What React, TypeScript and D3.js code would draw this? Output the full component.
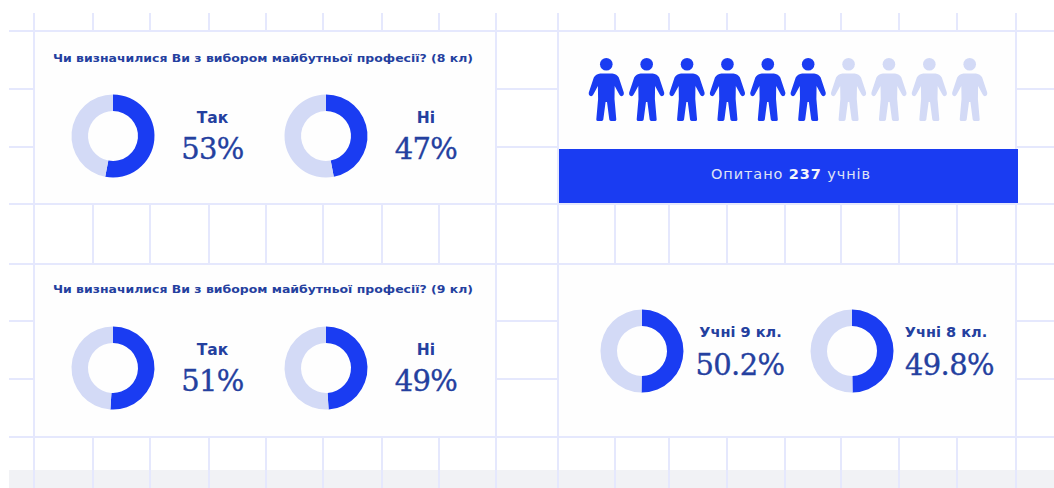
import React from "react";
import * as d3 from "d3";

const WIDTH = 1054;
const HEIGHT = 488;

const BLUE = "#1a3cf2";
const PALE = "#d3daf6";
const INK = "#24409f";
const GRID = "#e5e8fd";
const BAND = "#f1f2f5";

// Survey results
const titleGrade8 = "Чи визначилися Ви з вибором майбутньої професії? (8 кл)";
const titleGrade9 = "Чи визначилися Ви з вибором майбутньої професії? (9 кл)";
const answerLabels = ["Так", "Ні"];
const grade8Answers = [53, 47];
const grade9Answers = [51, 49];
const gradeLabels = ["Учні 9 кл.", "Учні 8 кл."];
const gradeShares = [50.2, 49.8];
const peopleTotal = 10;
const peopleHighlighted = 6;

// Notebook grid lines
const gridColumns = [34, 93, 150, 209, 266, 323, 382, 439, 496, 558, 615, 669, 727, 785, 841, 899, 957, 1016];
const gridRows = [31, 89, 147, 204, 264, 321, 379, 437];

const pie = d3.pie<number>().sort(null).startAngle(0).endAngle(2 * Math.PI);
const arc = d3.arc<d3.PieArcDatum<number>>().innerRadius(25).outerRadius(41.5);

function Donut({ cx, cy, value }: { cx: number; cy: number; value: number }) {
  const slices = pie([value, 100 - value]);
  return (
    <g transform={`translate(${cx},${cy})`}>
      {slices.map((s, i) => (
        <path key={i} d={arc(s) ?? ""} fill={i === 0 ? BLUE : PALE} />
      ))}
    </g>
  );
}

function Stat(props: { labelX: number; valueX: number; labelY: number; valueY: number; label: string; value: string; labelSize: number }) {
  const { labelX, valueX, labelY, valueY, label, value, labelSize } = props;
  return (
    <g textAnchor="middle" fill={INK}>
      <text x={labelX} y={labelY} fontFamily="DejaVu Sans" fontWeight={700} fontSize={labelSize}>{label}</text>
      <text x={valueX} y={valueY} fontFamily="DejaVu Serif" fontWeight={400} fontSize={29} letterSpacing={-0.6} stroke={INK} strokeWidth={0.35}>{value}</text>
    </g>
  );
}

function Person({ x, color }: { x: number; color: string }) {
  return (
    <g transform={`translate(${x},0)`} fill={color}>
      <circle cx={0} cy={64.2} r={6.3} />
      <path d="M-6 73.5 H6 Q10.5 74 12.5 77.5 L17.5 92.5 Q18 95.8 15.2 96.3 Q13.9 96.2 13 94.5 L8.4 86 L8.2 99 L10 119.5 Q10 121 8.4 121 H4.6 Q3.2 121 3 119.6 L0.7 102 H-0.7 L-3 119.6 Q-3.2 121 -4.6 121 H-8.4 Q-10 121 -10 119.5 L-8.2 99 L-8.4 86 L-13 94.5 Q-13.9 96.2 -15.2 96.3 Q-18 95.8 -17.5 92.5 L-12.5 77.5 Q-10.5 74 -6 73.5 Z" />
    </g>
  );
}

function Card({ x, y, width, height }: { x: number; y: number; width: number; height: number }) {
  return <rect x={x} y={y} width={width} height={height} fill="#fefefe" stroke={GRID} strokeWidth={2} />;
}

function QuestionPanel({ top, titleY, title, values }: { top: number; titleY: number; title: string; values: number[] }) {
  const donutX = [113, 326];
  const labelX = [212.5, 426];
  return (
    <g>
      <text x={53} y={titleY} fontFamily="DejaVu Sans" fontWeight={700} fontSize={11.2} fill={INK} textLength={420} lengthAdjust="spacingAndGlyphs">{title}</text>
      {values.map((v, i) => (
        <g key={answerLabels[i]}>
          <Donut cx={donutX[i]} cy={top + 105} value={v} />
          <Stat labelX={labelX[i]} valueX={labelX[i]} labelY={top + 92} valueY={top + 128} label={answerLabels[i]} value={`${v}%`} labelSize={15.5} />
        </g>
      ))}
    </g>
  );
}

export default function App() {
  const personX = d3.scalePoint<number>().domain(d3.range(peopleTotal)).range([606.3, 969.7]);
  return (
    <svg
      width={WIDTH}
      height={HEIGHT}
      viewBox={`0 0 ${WIDTH} ${HEIGHT}`}
      style={{ position: "absolute", left: 0, top: 0, display: "block", background: "#ffffff" }}
    >
      <rect x={9} y={470} width={WIDTH - 9} height={18} fill={BAND} />
      {gridRows.map((y) => (
        <line key={y} x1={9} x2={WIDTH} y1={y} y2={y} stroke={GRID} strokeWidth={2} />
      ))}
      {gridColumns.map((x) => (
        <line key={x} x1={x} x2={x} y1={13} y2={HEIGHT} stroke={GRID} strokeWidth={2} />
      ))}

      <Card x={34} y={31} width={462} height={173} />
      <Card x={558} y={31} width={458} height={173} />
      <Card x={34} y={264} width={462} height={173} />
      <Card x={558} y={264} width={458} height={173} />

      <QuestionPanel top={31} titleY={62} title={titleGrade8} values={grade8Answers} />
      <QuestionPanel top={263} titleY={292.5} title={titleGrade9} values={grade9Answers} />

      {d3.range(peopleTotal).map((i) => (
        <Person key={i} x={personX(i) ?? 0} color={i < peopleHighlighted ? BLUE : PALE} />
      ))}
      <rect x={559} y={149} width={459} height={54} fill={BLUE} />
      <text x={791} y={178.5} textAnchor="middle" fontFamily="DejaVu Sans" fontSize={14.5} letterSpacing={0.9} fill="#dfe3f5">
        Опитано <tspan fontWeight={700} fill="#f4f5fb">237</tspan> учнів
      </text>

      {gradeShares.map((v, i) => (
        <g key={gradeLabels[i]}>
          <Donut cx={[642, 852][i]} cy={351} value={v} />
          <Stat
            labelX={[740.5, 946][i]}
            valueX={[740, 949.5][i]}
            labelY={337}
            valueY={375}
            label={gradeLabels[i]}
            value={`${v}%`}
            labelSize={14.5}
          />
        </g>
      ))}
    </svg>
  );
}
